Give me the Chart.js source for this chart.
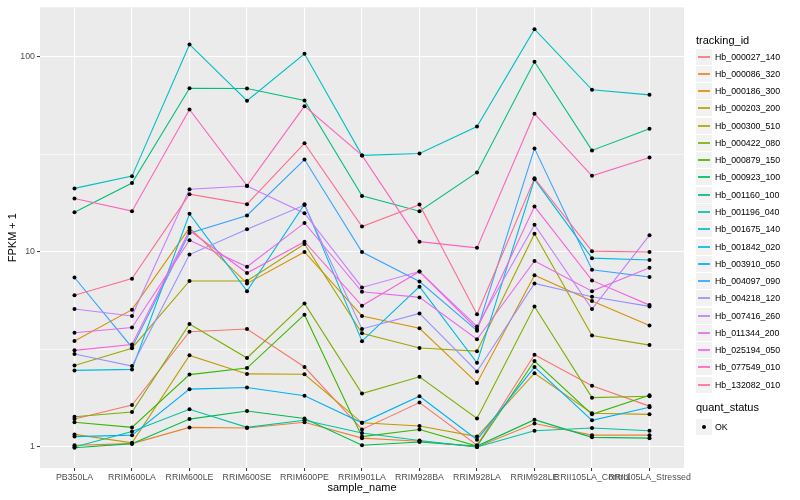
<!DOCTYPE html>
<html>
<head>
<meta charset="utf-8">
<script src="https://cdn.jsdelivr.net/npm/chart.js@4.4.1/dist/chart.umd.min.js"></script>
<style>
  html, body { margin: 0; padding: 0; background: #fff; }
  #wrap { position: relative; width: 800px; height: 500px; font-family: 'Liberation Sans', Arial, sans-serif; }
  #chart { position: absolute; left: 0; top: 0; }
  .lg-title { position: absolute; left: 696px; font-size: 11px; color: #000; line-height: 13px; }
  .lg-row { position: absolute; left: 696px; height: 16px; display: flex; align-items: flex-start; }
  .lg-key { width: 16px; height: 16px; background: #F2F2F2; position: relative; margin-right: 3px; }
  .lg-key i { position: absolute; left: 2px; right: 2px; top: 7px; height: 2px; opacity: 0.85; }
  .lg-key b { position: absolute; left: 6px; top: 6px; width: 4px; height: 4px; background: #000; border-radius: 2px; }
  .lg-text { font-size: 8.8px; line-height: 16px; color: #000; white-space: nowrap; }
</style>
</head>
<body>
<div id="wrap">
  <canvas id="chart" width="800" height="500"></canvas>
  <div id="legend"></div>
</div>
<script>
// categories
const sampleNames = ['PB350LA', 'RRIM600LA', 'RRIM600LE', 'RRIM600SE', 'RRIM600PE', 'RRIM901LA',
  'RRIM928BA', 'RRIM928LA', 'RRIM928LE', 'RRII105LA_Control', 'RRII105LA_Stressed'];
const trackingIds = ['Hb_000027_140', 'Hb_000086_320', 'Hb_000186_300', 'Hb_000203_200', 'Hb_000300_510',
  'Hb_000422_080', 'Hb_000879_150', 'Hb_000923_100', 'Hb_001160_100', 'Hb_001196_040',
  'Hb_001675_140', 'Hb_001842_020', 'Hb_003910_050', 'Hb_004097_090', 'Hb_004218_120',
  'Hb_007416_260', 'Hb_011344_200', 'Hb_025194_050', 'Hb_077549_010', 'Hb_132082_010'];

// FPKM + 1 per tracking id, one value per sample
const hb_000027_140 = [1.39, 1.64, 3.90, 4.03, 2.57, 1.23, 1.69, 1.02, 2.97, 2.06, 1.62];
const hb_000086_320 = [1.02, 1.04, 1.26, 1.25, 1.34, 1.11, 1.07, 1.00, 1.32, 1.15, 1.15];
const hb_000186_300 = [3.5, 5.06, 13.3, 6.9, 10.0, 4.7, 4.06, 2.13, 7.6, 5.6, 4.2];
const hb_000203_200 = [1.16, 1.05, 2.95, 2.37, 2.36, 1.33, 1.28, 1.13, 2.39, 1.49, 1.47];
const hb_000300_510 = [2.62, 3.21, 7.1, 7.1, 11.0, 3.83, 3.22, 3.10, 12.4, 3.73, 3.33];
const hb_000422_080 = [1.43, 1.51, 4.27, 2.86, 5.45, 1.88, 2.29, 1.40, 5.25, 1.79, 1.82];
const hb_000879_150 = [1.34, 1.26, 2.35, 2.54, 4.77, 1.13, 1.23, 1.01, 2.76, 1.47, 1.84];
const hb_000923_100 = [0.99, 1.04, 1.39, 1.53, 1.40, 1.02, 1.06, 1.01, 1.38, 1.12, 1.11];
const hb_001160_100 = [16.0, 22.6, 69.2, 69.0, 59.8, 19.4, 16.2, 25.6, 94.6, 33.2, 42.9];
const hb_001196_040 = [1.00, 1.20, 1.56, 1.26, 1.37, 1.18, 1.08, 1.00, 1.21, 1.25, 1.21];
const hb_001675_140 = [21.2, 24.5, 116, 59.7, 104, 31.3, 32.0, 44.0, 139, 67.9, 64.0];
const hb_001842_020 = [2.47, 2.50, 15.7, 6.3, 17.6, 3.49, 6.64, 2.70, 23.6, 9.3, 9.1];
const hb_003910_050 = [1.13, 1.15, 1.98, 2.02, 1.83, 1.33, 1.82, 1.09, 2.57, 1.37, 1.60];
const hb_004097_090 = [7.4, 3.24, 12.5, 15.4, 29.8, 10.0, 7.06, 3.95, 34.0, 8.1, 7.45];
const hb_004218_120 = [3.0, 2.6, 9.7, 13.1, 17.4, 4.03, 4.84, 2.44, 6.9, 5.9, 5.26];
const hb_007416_260 = [5.1, 4.7, 21.0, 21.8, 15.8, 6.58, 7.94, 4.15, 13.8, 5.1, 12.2];
const hb_011344_200 = [3.85, 4.1, 11.5, 8.4, 14.1, 6.25, 5.85, 3.57, 9.0, 6.3, 8.3];
const hb_025194_050 = [3.13, 3.35, 12.9, 7.8, 11.3, 5.3, 7.94, 4.03, 17.1, 7.15, 5.34];
const hb_077549_010 = [18.8, 16.2, 53.9, 21.9, 56.0, 31.3, 11.3, 10.5, 51.2, 24.6, 30.5];
const hb_132082_010 = [6.0, 7.3, 19.8, 17.6, 36.1, 13.5, 17.5, 4.79, 23.9, 10.1, 10.0];

// y ticks: labelled decades plus the half-decade minor lines
const majorTicks = [1, 10, 100];
const minorTicks = [Math.sqrt(10), Math.sqrt(1000)];

const seriesValues = [hb_000027_140, hb_000086_320, hb_000186_300, hb_000203_200, hb_000300_510,
  hb_000422_080, hb_000879_150, hb_000923_100, hb_001160_100, hb_001196_040,
  hb_001675_140, hb_001842_020, hb_003910_050, hb_004097_090, hb_004218_120,
  hb_007416_260, hb_011344_200, hb_025194_050, hb_077549_010, hb_132082_010];

// ggplot default hue palette for 20 groups
const colors = ['#F8766D', '#EA8331', '#D89000', '#C09B00', '#A3A500', '#7CAE00', '#39B600', '#00BB4E',
  '#00BF7D', '#00C1A3', '#00BFC4', '#00BAE0', '#00B0F6', '#35A2FF', '#9590FF', '#C77CFF',
  '#E76BF3', '#FA62DB', '#FF62BC', '#FF6C90'];

const toPoints = vals => vals.map((v, j) => ({ x: j + 1, y: v }));

const datasets = [];
seriesValues.forEach((vals, i) => {
  datasets.push({
    label: trackingIds[i],
    data: toPoints(vals),
    borderColor: colors[i],
    backgroundColor: colors[i],
    borderWidth: 1.1,
    pointRadius: 0,
    tension: 0,
    order: 40 - i
  });
});
// points layer on top of every line, like geom_point after geom_line
seriesValues.forEach((vals, i) => {
  datasets.push({
    label: trackingIds[i] + ' OK',
    data: toPoints(vals),
    showLine: false,
    pointRadius: 2,
    pointBackgroundColor: '#000',
    pointBorderColor: '#000',
    pointBorderWidth: 0,
    order: 0
  });
});

const panelBg = {
  id: 'panelBg',
  beforeDraw(chart) {
    const { ctx, chartArea: a } = chart;
    ctx.save();
    ctx.fillStyle = '#EBEBEB';
    ctx.fillRect(a.left, a.top, a.right - a.left, a.bottom - a.top);
    ctx.restore();
  }
};

const isMajor = v => majorTicks.some(m => Math.abs(m - v) < 1e-6);

Chart.defaults.font.family = "'Liberation Sans', Arial, sans-serif";

new Chart(document.getElementById('chart'), {
  type: 'line',
  data: { datasets: datasets },
  options: {
    responsive: false,
    animation: false,
    layout: { padding: { left: 0, right: 116, top: 5, bottom: 0 } },
    plugins: { legend: { display: false }, tooltip: { enabled: false } },
    scales: {
      x: {
        type: 'linear',
        min: 0.4,
        max: 11.6,
        afterBuildTicks: s => { s.ticks = sampleNames.map((n, j) => ({ value: j + 1 })); },
        afterFit: s => { s.height = 32; },
        ticks: {
          autoSkip: false,
          maxRotation: 0,
          minRotation: 0,
          padding: 1,
          color: '#4D4D4D',
          font: { size: 8.8 },
          callback: v => sampleNames[v - 1]
        },
        grid: { color: '#FFFFFF', lineWidth: 1.1, tickLength: 3, tickColor: '#333333', tickWidth: 1 },
        border: { display: false },
        title: { display: true, text: 'sample_name', color: '#000', font: { size: 11 }, padding: { top: 0, bottom: 5 } }
      },
      y: {
        type: 'logarithmic',
        min: 0.78,
        max: 180,
        afterBuildTicks: s => {
          s.ticks = majorTicks.concat(minorTicks).sort((a, b) => a - b).map(v => ({ value: v }));
        },
        afterFit: s => { s.width = 40; },
        ticks: {
          padding: 2,
          color: '#4D4D4D',
          font: { size: 8.8 },
          callback: v => isMajor(v) ? String(Math.round(v)) : ''
        },
        grid: {
          color: '#FFFFFF',
          lineWidth: c => (c.tick && isMajor(c.tick.value)) ? 1.1 : 0.55,
          tickLength: 3,
          tickWidth: 1,
          tickColor: c => (c.tick && isMajor(c.tick.value)) ? '#333333' : 'rgba(0,0,0,0)'
        },
        border: { display: false },
        title: { display: true, text: 'FPKM + 1', color: '#000', font: { size: 11 }, padding: { top: 6, bottom: 0 } }
      }
    }
  },
  plugins: [panelBg]
});

// legend, ggplot style
const legend = document.getElementById('legend');
function addTitle(text, top) {
  const t = document.createElement('div');
  t.className = 'lg-title';
  t.style.top = top + 'px';
  t.textContent = text;
  legend.appendChild(t);
}
function addRow(text, top, inner) {
  const r = document.createElement('div');
  r.className = 'lg-row';
  r.style.top = Math.round(top) + 'px';
  const k = document.createElement('div');
  k.className = 'lg-key';
  k.appendChild(inner);
  const s = document.createElement('span');
  s.className = 'lg-text';
  s.textContent = text;
  r.appendChild(k);
  r.appendChild(s);
  legend.appendChild(r);
}
addTitle('tracking_id', 34);
trackingIds.forEach((id, i) => {
  const line = document.createElement('i');
  line.style.background = colors[i];
  addRow(id, 48.6 + i * 17.27, line);
});
addTitle('quant_status', 401);
addRow('OK', 419, document.createElement('b'));
</script>
</body>
</html>
